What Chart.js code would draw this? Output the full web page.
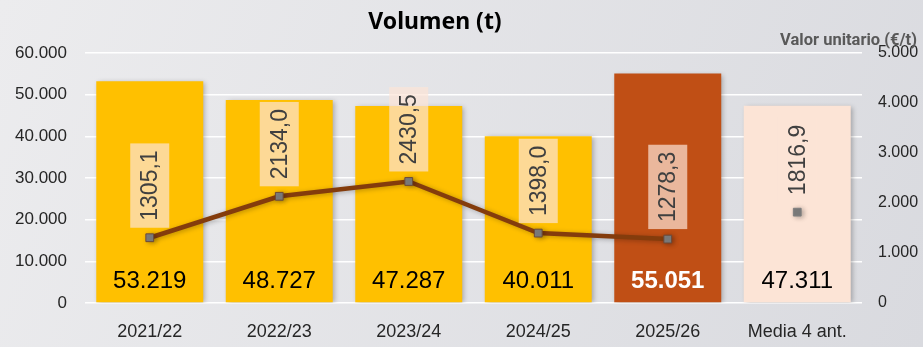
<!DOCTYPE html>
<html>
<head>
<meta charset="utf-8">
<script src="https://cdn.jsdelivr.net/npm/chart.js@4/dist/chart.umd.min.js"></script>
<style>
  html, body { margin: 0; padding: 0; background: #e4e5e9; }
  #wrap { width: 923px; height: 347px; }
</style>
</head>
<body>
<div id="wrap"><canvas id="volume-chart" width="923" height="347"></canvas></div>
<script>
// Chart data
const categories = ['2021/22', '2022/23', '2023/24', '2024/25', '2025/26', 'Media 4 ant.'];
const volumes = [53219, 48727, 47287, 40011, 55051, 47311];
const unitValues = [1305.1, 2134.0, 2430.5, 1398.0, 1278.3, null];
const averageUnitValue = [null, null, null, null, null, 1816.9];
const volumeAxis = { max: 60000, step: 10000 };
const unitAxis = { max: 5000, step: 1000 };

const barColors = ['#FFC000', '#FFC000', '#FFC000', '#FFC000', '#C04F15', '#FCE4D6'];
const sansFont = "'Liberation Sans', Arial, sans-serif";

// Helpers
function thousands(v) {
    return Math.round(v).toString().replace(/\B(?=(\d{3})+(?!\d))/g, '.');
}
function decimal(v) {
    return v.toFixed(1).replace('.', ',');
}

// Background gradient
const backgroundPlugin = {
    id: 'background',
    beforeDraw(chart) {
        const { ctx, width, height } = chart;
        const g = ctx.createLinearGradient(0, 0, width, height);
        g.addColorStop(0, '#ececee');
        g.addColorStop(1, '#d9dadf');
        ctx.save();
        ctx.fillStyle = g;
        ctx.fillRect(0, 0, width, height);
        ctx.restore();
    }
};

// Soft shadow under bars and line
const shadowPlugin = {
    id: 'shadow',
    beforeDatasetDraw(chart) {
        const ctx = chart.ctx;
        ctx.save();
        ctx.shadowColor = 'rgba(0,0,0,0.28)';
        ctx.shadowBlur = 5;
        ctx.shadowOffsetX = 2;
        ctx.shadowOffsetY = 1;
    },
    afterDatasetDraw(chart) {
        chart.ctx.restore();
    }
};

// Titles and value labels
const labelPlugin = {
    id: 'labels',
    afterDraw(chart) {
        const ctx = chart.ctx;
        ctx.save();

        // Chart title
        ctx.fillStyle = '#000';
        ctx.font = "bold 23px 'Noto Sans', sans-serif";
        ctx.textAlign = 'center';
        ctx.textBaseline = 'middle';
        ctx.fillText('Volumen (t)', 435, 22);

        // Secondary axis title
        ctx.fillStyle = '#595959';
        ctx.font = "bold 16.5px Roboto, sans-serif";
        ctx.textAlign = 'right';
        ctx.textBaseline = 'alphabetic';
        ctx.fillText('Valor unitario (€/t)', 917, 45);

        // Volume labels at the foot of each bar
        const bars = chart.getDatasetMeta(2).data;
        ctx.textAlign = 'center';
        ctx.textBaseline = 'middle';
        bars.forEach((bar, i) => {
            const highlight = i === 4;
            ctx.fillStyle = highlight ? '#fff' : '#000';
            ctx.font = (highlight ? 'bold ' : '') + '24px ' + sansFont;
            ctx.fillText(thousands(volumes[i]), bar.x, bar.base - 21);
        });

        // Unit value labels, rotated, above each point
        const drawPointLabel = (pt, value) => {
            const text = decimal(value);
            ctx.font = '23px ' + sansFont;
            const tw = ctx.measureText(text).width;
            const boxH = tw + 14;
            const boxW = 39;
            const bottom = pt.y - 10;
            ctx.fillStyle = 'rgba(252,228,214,0.7)';
            ctx.fillRect(pt.x - boxW / 2, bottom - boxH, boxW, boxH);
            ctx.save();
            ctx.translate(pt.x + 1, bottom - boxH / 2);
            ctx.rotate(-Math.PI / 2);
            ctx.fillStyle = '#404040';
            ctx.textAlign = 'center';
            ctx.textBaseline = 'middle';
            ctx.fillText(text, 0, 0);
            ctx.restore();
        };
        chart.getDatasetMeta(0).data.forEach((pt, i) => {
            if (unitValues[i] != null) drawPointLabel(pt, unitValues[i]);
        });
        chart.getDatasetMeta(1).data.forEach((pt, i) => {
            if (averageUnitValue[i] != null) drawPointLabel(pt, averageUnitValue[i]);
        });

        ctx.restore();
    }
};

const ctx = document.getElementById('volume-chart').getContext('2d');
const chart = new Chart(ctx, {
    type: 'bar',
    data: {
        labels: categories,
        datasets: [
            {
                type: 'line',
                data: unitValues,
                yAxisID: 'y1',
                borderColor: '#843C0C',
                borderWidth: 4.5,
                pointStyle: 'rect',
                pointRadius: 5.5,
                pointBackgroundColor: '#7F7F7F',
                pointBorderColor: '#6b4a3a',
                pointBorderWidth: 1,
                spanGaps: false,
                order: 0
            },
            {
                type: 'line',
                data: averageUnitValue,
                yAxisID: 'y1',
                showLine: false,
                pointStyle: 'rect',
                pointRadius: 5.5,
                pointBackgroundColor: '#7F7F7F',
                pointBorderColor: '#7F7F7F',
                pointBorderWidth: 1,
                order: 0
            },
            {
                type: 'bar',
                data: volumes,
                yAxisID: 'y',
                backgroundColor: barColors,
                borderWidth: 0,
                categoryPercentage: 1,
                barPercentage: 0.826,
                order: 1
            }
        ]
    },
    options: {
        responsive: false,
        animation: false,
        layout: { padding: { top: 53, left: 0, right: 0, bottom: 0 } },
        plugins: {
            legend: { display: false },
            tooltip: { enabled: false },
            title: { display: false }
        },
        scales: {
            x: {
                grid: { display: false },
                border: { display: false },
                ticks: {
                    color: '#262626',
                    font: { family: sansFont, size: 18 },
                    padding: 10
                },
                afterFit(scale) { scale.height = 44; }
            },
            y: {
                position: 'left',
                min: 0,
                max: volumeAxis.max,
                grid: { color: '#ffffff', lineWidth: 1.5, drawTicks: false },
                border: { display: false },
                ticks: {
                    stepSize: volumeAxis.step,
                    color: '#262626',
                    font: { family: sansFont, size: 17 },
                    padding: 18,
                    callback: v => thousands(v)
                },
                afterFit(scale) { scale.width = 85; }
            },
            y1: {
                position: 'right',
                min: 0,
                max: unitAxis.max,
                grid: { display: false, drawTicks: false },
                border: { display: false },
                ticks: {
                    stepSize: unitAxis.step,
                    color: '#262626',
                    font: { family: sansFont, size: 16 },
                    padding: 16,
                    callback: v => thousands(v)
                },
                afterFit(scale) { scale.width = 61; }
            }
        }
    },
    plugins: [backgroundPlugin, shadowPlugin, labelPlugin]
});
</script>
</body>
</html>
